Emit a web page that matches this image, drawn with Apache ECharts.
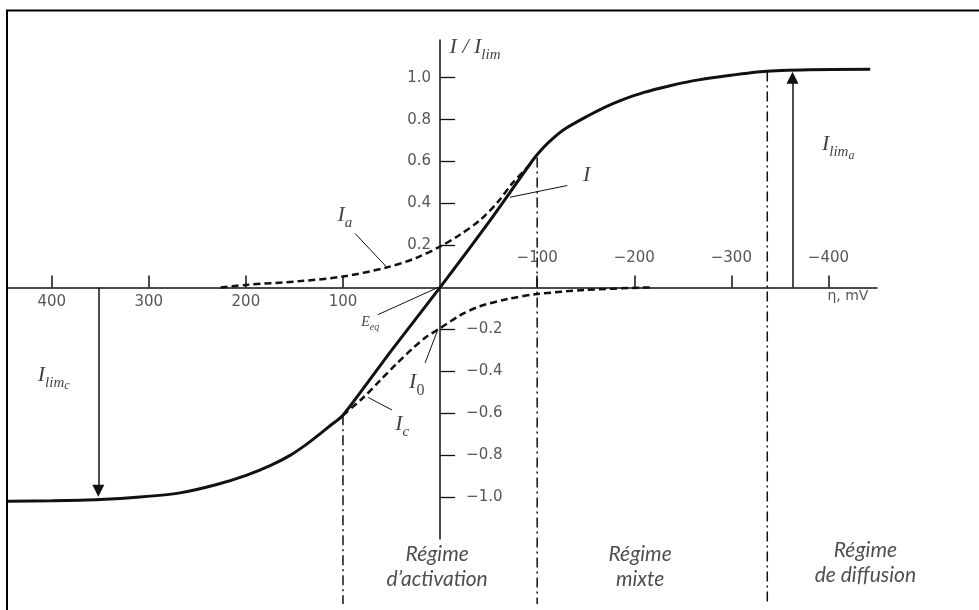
<!DOCTYPE html>
<html>
<head>
<meta charset="utf-8">
<script src="https://cdn.jsdelivr.net/npm/echarts@6/dist/echarts.min.js"></script>
<style>html,body{margin:0;padding:0;background:#fff}#c{width:979px;height:610px}</style>
</head>
<body>
<div id="c"></div>
<script>
// ---- data (η in mV, current as I/I_lim) ----
const etaTicks = [400, 300, 200, 100, -100, -200, -300, -400];
const etaLabelsBelow = [400, 300, 200, 100];
const etaLabelsAbove = [-100, -200, -300, -400];
const yTicks = [1.0, 0.8, 0.6, 0.4, 0.2, -0.2, -0.4, -0.6, -0.8, -1.0];
const yLabelsLeft = [0.2, 0.4, 0.6, 0.8, 1.0];
const yLabelsRight = [-0.2, -0.4, -0.6, -0.8, -1.0];

const curveI = [[445,-1.02],[400,-1.018],[350,-1.012],[309,-1.0],[268,-0.98],[230,-0.94],[199,-0.895],[175,-0.85],[154,-0.80],[138,-0.75],[124,-0.70],[112,-0.655],[100,-0.61],[50,-0.30],[0,0],[-50,0.31],[-96,0.61],[-106,0.665],[-116,0.71],[-130,0.76],[-151,0.815],[-170,0.86],[-185,0.89],[-210,0.93],[-237,0.962],[-260,0.985],[-288,1.005],[-333,1.03],[-380,1.038],[-443,1.04]];
const curveIa = [[226,0],[200,0.012],[144,0.03],[100,0.052],[55,0.095],[25,0.14],[0,0.195],[-20,0.25],[-41,0.32],[-60,0.41],[-75,0.5],[-96,0.6]];
const curveIc = [[100,-0.61],[79,-0.525],[62,-0.445],[45,-0.365],[28,-0.29],[14,-0.235],[0,-0.195],[-20,-0.135],[-41,-0.09],[-70,-0.055],[-98,-0.033],[-150,-0.012],[-216,0]];

const regimeEta = [100, -100, -337];
const regimeTop = [-0.61, 0.62, 1.03];
const regimeBottom = -1.51;

const leaders = [
  [[87.5, 0.257], [54.6, 0.095]],
  [[-72, 0.43], [-131, 0.486]],
  [[64, -0.13], [2, 0]],
  [[15.4, -0.36], [3, -0.21]],
  [[49.4, -0.585], [74, -0.525]]
];
const limArrows = [[-363, 0, 1.0], [352, 0, -0.97]];

const labelTexts = ['{i|I}{s|a}', '{i|I}', '{e|E}{es|eq}', '{i|I}{r|0}', '{i|I}{s|c}',
  '{i|I}{s|lim}{ss|a}', '{i|I}{s|lim}{ss|c}', '{i|I / I}{s|lim}', '{u|η, mV}'];
const labelPos = [[98,0.33],[-151,0.52],[72,-0.176],[24,-0.467],[39,-0.667],
  [-410,0.667],[398,-0.433],[-36,1.13],[-420,-0.045]];
const regimeTexts = ['Régime\nd’activation', 'Régime\nmixte', 'Régime\nde diffusion'];
const regimePos = [[3,-1.33],[-206,-1.33],[-438,-1.315]];

// ---- chart ----
const ink = '#111';
const tickFont = {fontFamily: 'DejaVu Sans', fontSize: 15, color: '#2a2a2a'};
const serifIt = {fontFamily: 'Liberation Serif', fontStyle: 'italic', color: ink, verticalAlign: 'bottom'};
const rich = {
  i: Object.assign({}, serifIt, {fontSize: 22, padding: [0, 0, 6, 0]}),
  s: Object.assign({}, serifIt, {fontSize: 15, padding: [0, 0, 2, 0]}),
  ss: Object.assign({}, serifIt, {fontSize: 12, padding: [0, 0, 0, 0]}),
  r: {fontFamily: 'Liberation Serif', fontSize: 16, color: ink, verticalAlign: 'bottom', padding: [0, 0, 1, 0]},
  e: Object.assign({}, serifIt, {fontSize: 14, padding: [0, 0, 3, 0]}),
  es: Object.assign({}, serifIt, {fontSize: 10, padding: [0, 0, 0, 0]}),
  u: {fontFamily: 'DejaVu Sans', fontSize: 14, color: '#2a2a2a'}
};

const xRange = {min: -450, max: 445};
const yRange = {min: -1.2, max: 1.18};

function textSeries(points, texts, labelStyle) {
  return {type: 'scatter', symbolSize: 0, silent: true, clip: false, z: 10,
    data: points.map((p, k) => ({value: p, label: {formatter: texts[k]}})),
    label: Object.assign({show: true, position: [0, 0]}, labelStyle)};
}

const series = [];
series.push({type: 'line', name: 'I', data: curveI, smooth: 0.25, symbol: 'none', z: 5,
  lineStyle: {color: ink, width: 3}});
series.push({type: 'line', name: 'Ia', data: curveIa, smooth: 0.3, symbol: 'none', z: 4,
  lineStyle: {color: ink, width: 2.5, type: [7, 4]}});
series.push({type: 'line', name: 'Ic', data: curveIc, smooth: 0.3, symbol: 'none', z: 4,
  lineStyle: {color: ink, width: 2.5, type: [7, 4]}});
regimeEta.forEach((e, k) => {
  series.push({type: 'line', data: [[e, regimeTop[k]], [e, regimeBottom]], symbol: 'none', clip: false, silent: true,
    lineStyle: {color: ink, width: 1.5, type: [10, 4, 2, 4]}});
});
leaders.forEach(seg => {
  series.push({type: 'line', data: seg, symbol: 'none', silent: true, lineStyle: {color: ink, width: 1}});
});
series.push({type: 'line', data: [], silent: true,
  markLine: {silent: true, symbol: ['none', 'triangle'], symbolSize: 12, label: {show: false},
    lineStyle: {color: ink, width: 1.5, type: 'solid'},
    emphasis: {disabled: true},
    data: limArrows.map(a => [{coord: [a[0], a[1]]}, {coord: [a[0], a[2]]}])}});
// tick labels, placed through the axes' scales
series.push(textSeries(etaLabelsBelow.map(v => [v, 0]), etaLabelsBelow.map(v => String(v)),
  Object.assign({align: 'center', verticalAlign: 'middle', offset: [0, 15]}, tickFont)));
series.push(textSeries(etaLabelsAbove.map(v => [v, 0]), etaLabelsAbove.map(v => '−' + Math.abs(v)),
  Object.assign({align: 'center', verticalAlign: 'middle', offset: [0, -29]}, tickFont)));
series.push(textSeries(yLabelsLeft.map(v => [0, v]), yLabelsLeft.map(v => v.toFixed(1)),
  Object.assign({align: 'right', verticalAlign: 'middle', offset: [-9, 0]}, tickFont)));
series.push(textSeries(yLabelsRight.map(v => [0, v]), yLabelsRight.map(v => '−' + Math.abs(v).toFixed(1)),
  Object.assign({align: 'left', verticalAlign: 'middle', offset: [26, 0]}, tickFont)));
// annotations
series.push(textSeries(labelPos, labelTexts, {align: 'center', verticalAlign: 'middle', rich: rich}));
series.push(textSeries(regimePos, regimeTexts, {align: 'center', verticalAlign: 'middle',
  fontFamily: 'Lato', fontStyle: 'italic', fontSize: 21, lineHeight: 25, color: '#222'}));

const axisLineStyle = {color: ink, width: 1.5};
const option = {
  animation: false,
  backgroundColor: '#fff',
  grid: {left: 8, right: 102, top: 40, bottom: 71, containLabel: false, outerBoundsMode: 'none'},
  xAxis: Object.assign({type: 'value', inverse: true, position: 'bottom',
    axisLine: {show: true, onZero: true, lineStyle: axisLineStyle},
    axisTick: {show: true, inside: true, length: 12, customValues: etaTicks, lineStyle: {color: ink, width: 1.5}},
    axisLabel: {show: false},
    splitLine: {show: false}}, xRange),
  yAxis: Object.assign({type: 'value', position: 'left',
    axisLine: {show: true, onZero: true, lineStyle: axisLineStyle},
    axisTick: {show: true, inside: true, length: 15, customValues: yTicks, lineStyle: {color: ink, width: 1.3}},
    axisLabel: {show: false},
    splitLine: {show: false}}, yRange),
  graphic: [{type: 'rect', silent: true, z: 100,
    shape: {x: 7, y: 10.5, width: 2000, height: 2000},
    style: {fill: 'none', stroke: '#000', lineWidth: 2}}],
  series: series
};
const chart = echarts.init(document.getElementById('c'), null, {renderer: 'canvas'});
chart.setOption(option);
</script>
</body>
</html>
